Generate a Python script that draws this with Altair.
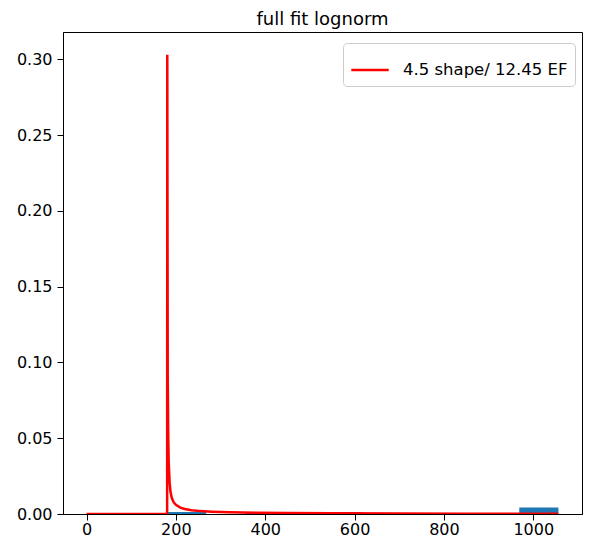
import altair as alt
import pandas as pd

# Histogram bins (density)
bin_left = [180.3, 355.5, 530.6, 968.6]
bin_right = [267.9, 443.1, 618.2, 1056.2]
bin_height = [0.0014, 0.0014, 0.0014, 0.0043]

# Fitted lognorm curve
curve_x = [0, 100, 180.5, 180.8, 181.8, 182.9, 184, 186, 188, 191, 195, 200, 210, 220,
           235, 255, 280, 320, 380, 450, 550, 700, 850, 1056.2]
curve_y = [0, 0, 0, 0.303, 0.09, 0.052, 0.034, 0.021, 0.0145, 0.0105, 0.0078, 0.006,
           0.0042, 0.0033, 0.0025, 0.0019, 0.0015, 0.0011, 0.0008, 0.0006, 0.00045,
           0.0003, 0.00022, 0.00016]

legend_label = "4.5 shape/ 12.45 EF"
x_ticks = [0, 200, 400, 600, 800, 1000]
y_ticks = [0, 0.05, 0.10, 0.15, 0.20, 0.25, 0.30]

bars = pd.DataFrame({"x": bin_left, "x2": bin_right, "h": bin_height})
curve = pd.DataFrame({"x": curve_x, "y": curve_y, "s": [legend_label] * len(curve_x),
                      "o": list(range(len(curve_x)))})

xscale = alt.Scale(domain=[-52.6, 1109], nice=False, zero=False)
yscale = alt.Scale(domain=[0, 0.318], nice=False, zero=False)

axis_common = dict(grid=False, domainColor="#000", tickColor="#000", tickSize=6,
                   labelFont="DejaVu Sans", labelFontSize=16, labelColor="#000",
                   title=None, domainWidth=1, tickWidth=1)

bar_layer = alt.Chart(bars).mark_rect(color="#1f77b4").encode(
    x=alt.X("x:Q", scale=xscale,
            axis=alt.Axis(values=x_ticks, format="d", labelPadding=1, **axis_common)),
    x2="x2:Q",
    y=alt.Y("h:Q", scale=yscale,
            axis=alt.Axis(values=y_ticks, format=".2f", labelPadding=5, **axis_common)),
    y2=alt.datum(0),
)

line_layer = alt.Chart(curve).mark_line(strokeWidth=2.5, clip=True).encode(
    x=alt.X("x:Q", scale=xscale),
    y=alt.Y("y:Q", scale=yscale),
    order="o:Q",
    color=alt.Color("s:N", scale=alt.Scale(range=["#ff0000"]),
                    legend=alt.Legend(title=None, orient="none", legendX=280, legendY=11,
                                      symbolType="stroke", symbolSize=1400,
                                      symbolStrokeWidth=2.5, labelFont="DejaVu Sans",
                                      labelFontSize=16.5, labelColor="#000", labelLimit=400,
                                      strokeColor="#cccccc", fillColor="#ffffff",
                                      cornerRadius=4, padding=7, labelOffset=13)),
)

chart = alt.layer(bar_layer, line_layer).properties(
    width=519, height=482,
    title=alt.Title("full fit lognorm", font="DejaVu Sans", fontSize=18,
                    fontWeight="normal", color="#000", offset=3),
    autosize=alt.AutoSizeParams(type="none"),
    padding={"left": 55, "top": 24, "right": 1, "bottom": 24},
).configure_view(stroke="#000", strokeWidth=1)

chart.save("out.html", embed_options={"renderer": "svg", "actions": False})
